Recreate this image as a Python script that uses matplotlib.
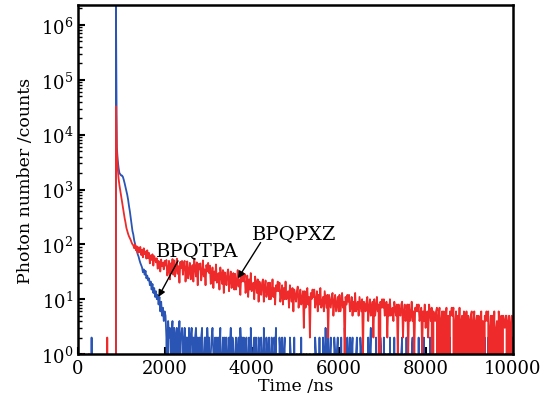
#%%
# IMPORTS #######################################

import matplotlib
matplotlib.use('Agg')
import matplotlib.pyplot as plt
import numpy as np

# SETUP #########################################

plt.rcParams.update({
    'font.family': 'DejaVu Serif',
    'mathtext.fontset': 'dejavuserif',
    'font.size': 12.5,
})

# DATA ##########################################

# time channels [ns], 20 ns bins (one line = 200 ns)
time_ns = np.arange(14, 10000, 20)

# BPQTPA (blue) photon counts per channel
bpqtpa = [
    0, 0, 0, 0, 0, 0, 0, 0, 0, 0,
    0, 0, 0, 0, 0, 2, 0, 0, 0, 0,
    0, 0, 0, 0, 0, 0, 0, 0, 0, 0,
    0, 0, 0, 0, 0, 0, 0, 0, 0, 0,
    0, 0, 0, 2300000, 6000, 3500, 2500, 2000, 1900, 1800,
    1800, 1700, 1500, 1300, 1100, 950, 800, 650, 500, 400,
    300, 230, 175, 150, 118, 102, 86, 77, 66, 60,
    52, 46, 42, 38, 31, 35, 28, 33, 24, 27,
    22, 24, 18, 21, 15, 19, 13, 16, 11, 14,
    10, 12, 8, 11, 6, 9, 5, 7, 4, 6,
    5, 2, 0, 4, 2, 3, 1, 2, 4, 0,
    3, 2, 1, 3, 0, 2, 4, 1, 2, 3,
    2, 0, 3, 1, 2, 2, 0, 3, 1, 2,
    3, 1, 2, 0, 2, 3, 1, 2, 0, 2,
    1, 2, 3, 0, 1, 2, 2, 0, 3, 1,
    2, 0, 1, 2, 3, 1, 0, 2, 1, 2,
    0, 2, 1, 3, 0, 1, 2, 0, 2, 1,
    2, 1, 0, 2, 1, 3, 0, 2, 1, 0,
    1, 2, 0, 1, 2, 0, 3, 1, 2, 0,
    2, 0, 1, 2, 0, 1, 2, 0, 3, 1,
    0, 1, 2, 0, 2, 1, 0, 2, 1, 0,
    2, 1, 0, 3, 1, 0, 2, 1, 0, 2,
    1, 0, 2, 1, 0, 2, 1, 3, 0, 1,
    0, 2, 1, 0, 2, 0, 1, 2, 0, 1,
    1, 0, 0, 2, 1, 0, 1, 0, 2, 0,
    0, 1, 0, 0, 1, 0, 2, 0, 0, 1,
    0, 0, 1, 0, 0, 0, 1, 0, 0, 0,
    1, 0, 2, 1, 0, 1, 0, 2, 0, 1,
    0, 2, 1, 0, 3, 0, 1, 2, 0, 1,
    2, 0, 1, 0, 2, 1, 0, 1, 2, 0,
    1, 0, 2, 0, 1, 0, 3, 1, 0, 2,
    0, 1, 2, 0, 1, 2, 0, 1, 0, 1,
    2, 0, 1, 0, 2, 1, 0, 2, 0, 1,
    0, 1, 0, 2, 0, 1, 3, 0, 1, 0,
    1, 0, 2, 0, 0, 1, 0, 2, 1, 0,
    0, 2, 0, 1, 0, 0, 1, 0, 2, 0,
    1, 0, 0, 2, 0, 1, 0, 0, 1, 0,
    0, 1, 2, 0, 0, 1, 0, 2, 0, 0,
    1, 0, 0, 1, 2, 0, 0, 1, 0, 0,
    0, 2, 0, 0, 1, 0, 0, 2, 0, 1,
    0, 0, 1, 0, 2, 0, 0, 0, 1, 0,
    0, 1, 0, 0, 0, 2, 0, 1, 0, 0,
    2, 0, 0, 1, 0, 0, 0, 2, 0, 0,
    0, 0, 1, 0, 0, 2, 0, 0, 1, 0,
    0, 1, 0, 0, 2, 0, 0, 1, 0, 0,
    1, 0, 0, 2, 0, 0, 1, 0, 0, 2,
    0, 0, 1, 0, 0, 1, 0, 2, 0, 0,
    0, 2, 0, 0, 1, 0, 0, 0, 2, 0,
    1, 0, 0, 0, 2, 0, 1, 0, 0, 0,
    0, 1, 0, 2, 0, 0, 1, 0, 0, 2,
]

# BPQPXZ (red) photon counts per channel
bpqpxz = [
    0, 0, 0, 0, 0, 1, 0, 0, 0, 0,
    0, 0, 1, 0, 0, 0, 0, 0, 0, 0,
    0, 0, 0, 0, 0, 0, 0, 0, 0, 0,
    0, 0, 0, 2, 0, 0, 0, 0, 0, 0,
    0, 0, 0, 33000, 5000, 2500, 1600, 1200, 950, 750,
    600, 480, 380, 300, 250, 200, 175, 155, 140, 130,
    120, 108, 100, 96, 85, 100, 78, 92, 70, 88,
    72, 90, 64, 80, 58, 85, 66, 74, 55, 78,
    56, 70, 45, 63, 52, 66, 41, 61, 54, 47,
    56, 36, 50, 45, 32, 53, 40, 46, 35, 50,
    41, 52, 27, 34, 50, 23, 45, 30, 54, 28,
    51, 26, 35, 55, 29, 40, 20, 48, 37, 50,
    28, 46, 50, 21, 35, 49, 24, 32, 46, 23,
    32, 42, 21, 53, 39, 26, 47, 18, 44, 35,
    45, 22, 30, 51, 26, 35, 18, 42, 32, 46,
    30, 41, 19, 24, 38, 16, 32, 22, 43, 20,
    23, 30, 15, 38, 28, 19, 34, 13, 31, 25,
    18, 30, 35, 14, 23, 32, 16, 21, 30, 15,
    29, 15, 20, 34, 17, 23, 12, 27, 21, 30,
    21, 29, 13, 17, 27, 11, 23, 15, 30, 14,
    15, 20, 10, 26, 19, 13, 23, 9, 21, 17,
    12, 20, 23, 9, 16, 22, 11, 14, 20, 10,
    20, 10, 13, 23, 11, 16, 8, 18, 14, 21,
    14, 20, 9, 12, 18, 8, 16, 10, 21, 10,
    11, 14, 7, 18, 13, 9, 16, 6, 15, 12,
    9, 14, 17, 7, 11, 15, 8, 10, 14, 3,
    14, 7, 10, 16, 8, 11, 2, 13, 10, 15,
    11, 15, 7, 9, 14, 6, 12, 8, 16, 7,
    8, 11, 6, 14, 10, 7, 12, 2, 12, 9,
    7, 11, 13, 5, 9, 12, 6, 8, 11, 6,
    12, 6, 8, 13, 7, 9, 1, 11, 8, 12,
    9, 12, 6, 7, 11, 5, 9, 6, 13, 6,
    7, 9, 5, 11, 8, 6, 10, 1, 9, 8,
    6, 9, 11, 4, 7, 10, 5, 6, 9, 2,
    10, 5, 7, 11, 6, 8, 0, 9, 7, 10,
    7, 10, 5, 6, 9, 2, 8, 5, 10, 5,
    6, 7, 4, 9, 7, 5, 8, 1, 8, 6,
    5, 8, 9, 2, 6, 8, 4, 5, 8, 1,
    8, 4, 5, 9, 4, 6, 1, 7, 6, 8,
    6, 8, 4, 5, 7, 1, 6, 4, 8, 3,
    5, 6, 2, 8, 6, 4, 7, 0, 6, 5,
    4, 6, 7, 0, 5, 7, 1, 4, 6, 0,
    6, 1, 4, 7, 0, 5, 0, 6, 5, 7,
    5, 7, 0, 4, 6, 0, 5, 1, 7, 0,
    4, 5, 0, 6, 5, 1, 6, 0, 5, 4,
    1, 5, 6, 0, 4, 6, 0, 4, 5, 0,
    5, 0, 4, 6, 1, 4, 0, 5, 4, 6,
    4, 6, 0, 3, 5, 0, 5, 1, 6, 0,
    3, 4, 0, 6, 4, 0, 5, 0, 5, 4,
    3, 5, 5, 0, 4, 5, 1, 3, 5, 0,
]

x_ticks = [0, 2000, 4000, 6000, 8000, 10000]

# FIGURE ########################################

fig = plt.figure(figsize=(5.45, 4.10), dpi=100)
ax = fig.add_axes([0.143, 0.134, 0.798, 0.851])

ax.plot(time_ns, bpqtpa, color='#2a55b5', lw=1.3)
ax.plot(time_ns, bpqpxz, color='#ee2a2a', lw=1.3)

ax.set_yscale('log')
ax.set_xlim(0, 10000)
ax.set_ylim(1, 2.3e6)
ax.set_xticks(x_ticks)

ax.tick_params(axis='both', which='both', direction='in', top=False, right=False)
ax.tick_params(which='major', length=5, width=1.5, labelsize=13)
ax.tick_params(which='minor', length=3, width=1)
for s in ax.spines.values():
    s.set_linewidth(1.8)

ax.set_xlabel('Time /ns', labelpad=0)
ax.set_ylabel('Photon number /counts', labelpad=5)

# ANNOTATIONS ###################################

arrow = dict(arrowstyle='-|>', color='k', lw=1, mutation_scale=10, shrinkA=0, shrinkB=0)
ax.text(1790, 80, 'BPQTPA', ha='left', va='center', fontsize=14)
ax.annotate('', xy=(1850, 11), xytext=(2300, 50), arrowprops=arrow)
ax.text(4000, 160, 'BPQPXZ', ha='left', va='center', fontsize=14)
ax.annotate('', xy=(3680, 24), xytext=(4200, 108), arrowprops=arrow)

# EXPORT ########################################

fig.savefig('out.png', dpi=100)
# %%
